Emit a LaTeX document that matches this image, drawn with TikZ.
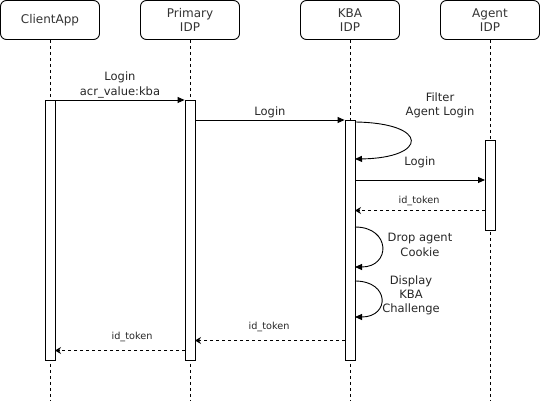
\documentclass[tikz,border=0pt]{standalone}
\usepackage{fontspec}
\setmainfont{DejaVu Sans}
\usetikzlibrary{arrows.meta}
\begin{document}
\begin{tikzpicture}[x=1pt,y=-1pt, line width=0.9pt,
 head/.style={draw, rounded corners=6pt, minimum width=99pt, minimum height=39pt, align=center, font=\fontsize{12}{14.5}\selectfont, text=black!80, inner sep=0pt},
 life/.style={dash pattern=on 3pt off 3pt, black},
 bar/.style={draw, fill=white, minimum width=10pt, inner sep=0pt, anchor=north},
 msg/.style={-{Triangle[length=7pt,width=6pt]}},
 ret/.style={dash pattern=on 3pt off 3pt, -{Stealth[length=6pt,width=7pt,inset=2pt]}},
 lbl/.style={font=\fontsize{11.5}{14.5}\selectfont, align=center, text=black!85},
 small/.style={font=\fontsize{9.7}{12}\selectfont, text=black!85}
]
\useasboundingbox (0,0) rectangle (541,401);
% headers
\node[head] (ca) at (50,20) {ClientApp};
\node[head] (pi) at (190,20) {Primary\\IDP};
\node[head] (ki) at (350,20) {KBA\\IDP};
\node[head] (ai) at (490,20) {Agent\\IDP};
% lifeline ends
\coordinate (caend) at (50,401);
\coordinate (piend) at (190,401);
\coordinate (kiend) at (350,401);
\coordinate (aiend) at (490,401);
\draw[life] (ca.south) -- (caend);
\draw[life] (pi.south) -- (piend);
\draw[life] (ki.south) -- (kiend);
\draw[life] (ai.south) -- (aiend);
% activation bars
\node[bar, minimum height=260pt] (cab) at (50,100) {};
\node[bar, minimum height=260pt] (pib) at (190,100) {};
\node[bar, minimum height=240pt] (kib) at (350,120) {};
\node[bar, minimum height=90pt] (aib) at (490,140) {};
% message points
\coordinate (m2s) at (195,120);
\coordinate (m3s) at (355,180);
\coordinate (m3e) at (485,180);
\coordinate (r1s) at (485,210.5);
\coordinate (r1e) at (355,210.5);
\coordinate (r2s) at (345,340.5);
\coordinate (r2e) at (195,340.5);
\coordinate (r3s) at (185,350.5);
\coordinate (r3e) at (55,350.5);
\coordinate (l1s) at (355,122);
\coordinate (l1e) at (355,159);
\coordinate (l2s) at (355,227);
\coordinate (l2e) at (355,267);
\coordinate (l3s) at (355,281);
\coordinate (l3e) at (355,317);
% messages
\draw[msg] (cab.north east) -- (pib.north west);
\draw[msg] (m2s) -- (kib.north west);
\draw[msg] (l1s) .. controls (430,123) and (428,158) .. (l1e);
\draw[msg] (m3s) -- (m3e);
\draw[ret] (r1s) -- (r1e);
\draw[msg] (l2s) .. controls (391,227) and (391,267) .. (l2e);
\draw[msg] (l3s) .. controls (390,281) and (390,317) .. (l3e);
\draw[ret] (r2s) -- (r2e);
\draw[ret] (r3s) -- (r3e);
% labels
\node[lbl] (t1) at (120,85) {Login\\acr\_value:kba};
\node[lbl] (t2) at (270,112) {Login};
\node[lbl] (t3) at (440,105.5) {Filter\\Agent Login};
\node[lbl] (t4) at (420,162) {Login};
\node[small] (t5) at (419,201) {id\_token};
\node[lbl] (t6) at (420,245) {Drop agent\\Cookie};
\node[lbl, font=\fontsize{11.5}{13.8}\selectfont] (t7) at (411,295.5) {Display\\KBA\\Challenge};
\node[small] (t8) at (269,327) {id\_token};
\node[small] (t9) at (132,337) {id\_token};
\end{tikzpicture}
\end{document}
